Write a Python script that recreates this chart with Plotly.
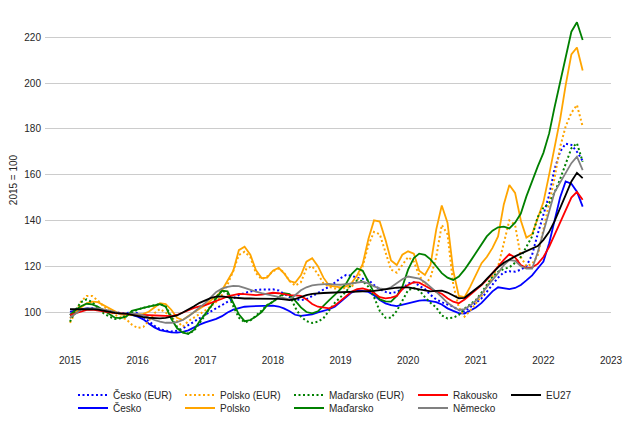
import pandas as pd
import plotly.graph_objects as go

# Monthly index values (2015 = 100), Jan 2015 .. Aug 2022
months = pd.date_range("2015-01-01", periods=92, freq="MS")

cz_eur = [
    98.7, 99.8, 100.8, 101.5, 101.7, 101.5, 101.0, 100.3, 99.8, 99.5, 99.5, 99.8,
    99.5, 98.0, 96.0, 94.0, 92.5, 91.8, 91.5, 91.8, 92.8, 94.3, 96.0, 97.5,
    98.8, 100.3, 101.7, 103.0, 104.5, 106.0, 107.4, 108.3, 109.0, 109.6, 109.8, 109.9,
    109.9, 109.4, 108.0, 106.5, 105.6, 105.2, 105.6, 106.8, 108.3, 109.8, 111.0, 112.8,
    114.8, 116.2, 115.8, 115.0, 114.5, 114.0, 111.8, 110.0, 108.8, 108.2, 108.8, 110.0,
    112.5, 113.0, 111.5, 110.0, 107.5, 105.5, 104.3, 103.3, 102.3, 100.8, 100.2, 102.0,
    103.8, 106.0, 108.8, 112.0, 115.0, 117.3, 117.8, 117.6, 118.5, 120.0, 125.0, 134.0,
    142.0, 151.0, 162.0, 170.0, 173.5, 173.0, 170.0, 166.0]

cz = [
    100.1, 100.8, 101.3, 101.6, 101.5, 101.2, 100.9, 100.3, 99.6, 99.2, 98.9, 98.7,
    98.0, 96.8, 95.0, 93.3, 92.1, 91.5, 91.1, 91.0, 91.3, 92.0, 93.4, 94.5,
    95.5, 96.3, 97.0, 98.2, 99.8, 101.0, 101.8, 102.3, 102.5, 102.6, 102.7, 102.8,
    102.8, 102.4, 101.6, 100.3, 98.8, 98.3, 98.5, 99.0, 99.8, 100.5, 101.2, 102.3,
    104.5, 106.8, 108.5, 109.5, 109.3, 108.8, 107.3, 105.2, 103.8, 103.0, 102.6, 103.2,
    104.0, 104.5, 105.0, 105.2, 104.8, 104.3, 103.3, 101.6, 100.5, 99.5, 99.3, 100.5,
    102.0, 104.0, 106.5, 109.0, 110.8, 110.5, 110.0, 110.5, 111.8, 113.8, 116.0, 119.0,
    122.0, 130.0, 140.0, 150.0, 157.0, 156.0, 152.5, 146.0]

pl_eur = [
    95.3, 100.0, 104.5, 107.0, 107.0, 105.0, 102.5, 100.5, 98.8, 97.8, 96.8, 94.5,
    93.0, 93.5, 96.0, 99.5, 101.3, 99.8, 97.5, 96.0, 93.6, 96.0, 97.5, 99.0,
    100.7, 102.5, 104.5, 107.5, 112.0, 118.0, 124.9, 126.3, 124.0, 117.0, 114.3, 115.5,
    117.8, 119.0, 117.3, 113.5, 111.5, 113.0, 119.0, 120.0, 116.5, 112.5, 111.0, 110.3,
    110.2, 110.5, 111.0, 113.5, 120.0, 129.3, 135.0, 134.0, 125.6, 118.5, 117.2, 120.5,
    124.0, 122.0, 116.0, 112.0, 115.0, 124.0, 138.0, 134.0, 112.0, 102.0, 98.0, 100.5,
    103.8, 107.0, 111.0, 115.5, 119.8, 130.0, 140.0, 138.0, 124.0, 120.0, 121.0, 124.5,
    136.0, 148.0, 158.0, 172.0, 181.0, 187.0, 190.4, 181.0]

pl = [
    97.2, 99.5, 102.0, 103.8, 104.5, 104.3, 103.0, 101.6, 100.0, 99.0, 98.7, 98.6,
    98.7, 99.2, 100.1, 102.0, 103.8, 103.5, 101.0, 97.5, 96.5, 98.3, 100.0, 101.5,
    103.0, 105.2, 106.8, 109.5, 113.5, 118.0, 127.0, 128.5, 125.0, 118.3, 114.8, 115.0,
    118.0, 119.3, 117.0, 113.5, 112.8, 116.0, 122.0, 123.5, 120.0, 115.0, 111.5, 111.0,
    110.8, 111.2, 112.5, 116.0, 121.0, 132.0, 140.0, 139.5, 131.5, 122.5, 120.5, 125.0,
    126.5, 125.5, 118.0, 116.2, 120.5, 136.0, 146.5, 139.0, 118.0, 107.0, 106.5, 111.0,
    116.5, 121.3, 124.0, 128.0, 133.0, 147.0, 155.5, 152.0, 140.0, 132.5, 134.0, 141.0,
    148.0, 160.0, 172.0, 184.0, 199.0, 212.5, 215.5, 205.5]

hu_eur = [
    95.8, 101.0, 104.3, 105.5, 104.3, 102.0, 99.5, 98.0, 97.0, 97.3, 98.5, 99.8,
    101.0, 101.8, 102.3, 103.0, 103.5, 102.5, 98.0, 93.5, 91.3, 90.5, 91.8, 95.0,
    98.7, 102.5, 106.5, 109.5, 108.0, 102.5, 97.5, 95.5, 96.3, 98.3, 100.8, 103.0,
    104.5, 106.3, 107.8, 107.5, 102.0, 98.0, 96.0, 95.2, 95.8, 97.3, 100.5, 104.0,
    106.5, 109.0, 112.0, 113.8, 113.5, 111.0, 106.5, 100.5, 97.5, 97.5, 100.5, 105.0,
    109.5, 110.5, 109.5, 106.5, 104.0, 102.0, 98.5, 97.2, 97.5, 98.7, 101.5, 103.3,
    105.2, 108.5, 112.0, 115.5, 117.5, 118.8, 119.5, 121.5, 124.1, 128.5, 133.0, 141.5,
    145.5, 147.5, 152.0, 158.0, 165.0, 171.5, 173.7, 165.6]

hu = [
    98.7, 101.0, 102.5, 103.6, 103.3, 102.3, 100.8, 99.0, 97.5, 97.3, 98.0, 100.5,
    101.3, 101.8, 102.3, 102.8, 103.4, 102.3, 97.0, 93.0, 91.0, 90.5, 92.2, 96.0,
    99.0, 102.5, 106.0, 109.3, 109.0, 104.0, 99.0, 96.0, 96.5, 98.0, 100.0, 103.0,
    104.5, 106.5, 108.2, 107.8, 105.0, 102.0, 100.0, 99.4, 100.3, 102.5, 105.2, 107.5,
    110.0, 112.5, 116.5, 119.0, 118.0, 113.0, 108.5, 105.5, 104.6, 104.5, 107.0, 111.0,
    118.5, 123.5, 125.5, 125.0, 123.0, 120.0, 117.0, 115.0, 114.0, 115.5, 118.5, 122.0,
    126.0, 129.8, 133.0, 135.5, 137.0, 137.3, 136.5, 139.0, 143.0, 150.5, 157.5, 163.5,
    169.5, 178.0, 189.0, 200.0, 211.0, 222.4, 226.5, 218.8]

at = [
    98.7, 99.5, 100.3, 100.9, 101.0, 100.8, 100.3, 99.9, 99.6, 99.4, 99.2, 99.0,
    98.8, 98.7, 98.5, 98.3, 98.1, 98.0, 98.2, 98.7, 99.7, 100.9, 101.8, 102.5,
    103.0, 104.0, 105.0, 105.8, 106.8, 107.5, 107.9, 107.8, 107.5, 107.4, 107.6, 108.0,
    108.4, 108.2, 107.8, 107.4, 107.3, 107.0, 105.5, 103.5, 102.3, 101.8, 101.6, 102.8,
    105.0, 107.0, 108.8, 110.0, 110.3, 109.6, 108.3, 106.5, 106.0, 106.3, 107.0, 110.0,
    111.8, 113.0, 112.8, 111.5, 110.0, 108.8, 108.0, 106.0, 104.5, 103.8, 105.5, 107.5,
    109.5, 111.8, 114.0, 117.0, 120.0, 122.8, 125.3, 123.8, 120.5, 119.2, 119.5, 121.0,
    124.0, 128.5, 133.5, 139.0, 145.0, 150.0, 152.5, 149.0]

de = [
    97.5, 99.5, 101.0, 101.6, 101.7, 101.6, 101.2, 100.5, 99.8, 99.4, 99.3, 99.4,
    99.2, 98.5, 97.5, 96.5, 95.8, 95.3, 95.3, 95.6, 96.5, 98.0, 100.0, 102.0,
    104.0, 106.5, 108.8, 110.2, 111.0, 111.4, 111.3, 110.5, 109.6, 108.9, 108.2, 107.6,
    107.2, 106.6, 105.8, 105.5, 107.3, 109.5, 110.8, 111.6, 112.0, 112.2, 112.3, 112.0,
    111.9, 112.2, 112.5, 112.9, 113.2, 112.5, 111.2, 110.3, 109.9, 110.8, 112.5, 114.3,
    115.5, 115.2, 114.6, 113.0, 111.0, 108.8, 106.5, 104.0, 102.3, 100.9, 101.3, 102.8,
    105.0, 107.8, 111.0, 114.0, 117.0, 120.5, 122.7, 122.3, 120.0, 119.0, 119.0, 126.0,
    135.0, 144.0, 152.0, 156.5, 160.5, 165.0, 167.8, 162.0]

eu27 = [
    101.2, 101.3, 101.3, 101.3, 101.3, 101.0, 100.5, 99.9, 99.6, 99.4, 99.3, 98.8,
    98.2, 97.8, 97.5, 97.3, 97.2, 97.4, 97.8, 98.5, 99.8, 101.0, 102.5, 104.0,
    105.2, 106.2, 106.7, 106.8, 106.5, 106.2, 106.0, 105.9, 105.9, 105.9, 105.9, 105.8,
    105.8, 105.7, 105.5, 105.2, 105.6, 106.5, 107.4, 107.9, 108.2, 108.3, 108.4, 108.5,
    108.7, 108.9, 109.0, 109.1, 109.0, 109.0, 109.2, 109.6, 110.0, 110.3, 110.6, 110.8,
    110.8, 110.3, 109.8, 109.3, 109.0, 109.2, 109.3, 108.5, 107.2, 106.0, 106.2, 108.0,
    110.0, 112.0, 114.5, 117.0, 119.5, 121.5, 123.0, 124.3, 125.5, 126.5, 127.5, 128.8,
    131.5, 135.0, 139.5, 145.0, 151.0, 157.0, 160.8, 158.5]

names = ["Česko (EUR)", "Česko", "Polsko (EUR)", "Polsko", "Maďarsko (EUR)",
         "Maďarsko", "Rakousko", "Německo", "EU27"]
values = [cz_eur, cz, pl_eur, pl, hu_eur, hu, at, de, eu27]
colors = ["#0000ff", "#0000ff", "#ffa500", "#ffa500", "#008000", "#008000",
          "#ff0000", "#808080", "#000000"]
dashes = ["2px,2.5px", "solid", "2px,2.5px", "solid", "2px,2.5px", "solid",
          "solid", "solid", "solid"]

# Page geometry in pixels (body margin is removed by the post script)
W, H = 625, 425
plot_left, plot_right, plot_top, plot_bottom = 45, 611, 10, 350
L, R, T, B = plot_left, W - plot_right, plot_top, H - plot_bottom
pw, ph = W - L - R, H - T - B
col_text_x = [113, 220, 329, 453, 546]
row_y = [395, 408]

FONT = "Liberation Sans, Arial, sans-serif"
TXT = "#262626"

fig = go.Figure()
legends = {}
for k, (nm, v, c, d) in enumerate(zip(names, values, colors, dashes)):
    col, row = k // 2, k % 2
    lname = "legend" if k == 0 else f"legend{k + 1}"
    fig.add_trace(go.Scatter(
        x=months, y=v, name=nm, mode="lines",
        line=dict(color=c, width=2 if d != "solid" else 1.8, dash=d),
        legend=lname,
    ))
    legends[lname] = dict(
        x=(col_text_x[col] - 40 - plot_left) / pw,
        y=(plot_bottom - row_y[row]) / ph,
        xanchor="left", yanchor="middle",
        orientation="v", bgcolor="rgba(0,0,0,0)", borderwidth=0,
        font=dict(family=FONT, size=10, color=TXT),
        itemwidth=30,
    )

fig.update_layout(
    width=W, height=H,
    margin=dict(l=L, r=R, t=T, b=B, autoexpand=False),
    paper_bgcolor="white", plot_bgcolor="white",
    font=dict(family=FONT, size=10, color=TXT),
    showlegend=True,
    **legends,
)
fig.update_xaxes(
    type="date", range=["2014-08-19", "2023-01-01"],
    tick0="2015-01-01", dtick="M12", tickformat="%Y",
    showgrid=False, zeroline=False, showline=False, ticks="",
    ticklabelstandoff=3, automargin=False,
    tickfont=dict(family=FONT, size=10, color=TXT),
)
fig.update_yaxes(
    range=[83.41, 231.88], tick0=100, dtick=20,
    showgrid=True, gridcolor="#cccccc", gridwidth=1,
    zeroline=False, showline=False, ticks="",
    ticklabelstandoff=3, automargin=False,
    tickfont=dict(family=FONT, size=10, color=TXT),
    title=dict(text="2015 = 100", standoff=4,
               font=dict(family=FONT, size=10, color=TXT)),
)

fig.write_html(
    "out.html",
    config={"displayModeBar": False},
    post_script="document.body.style.margin='0px';"
                "document.body.style.overflow='hidden';",
)
